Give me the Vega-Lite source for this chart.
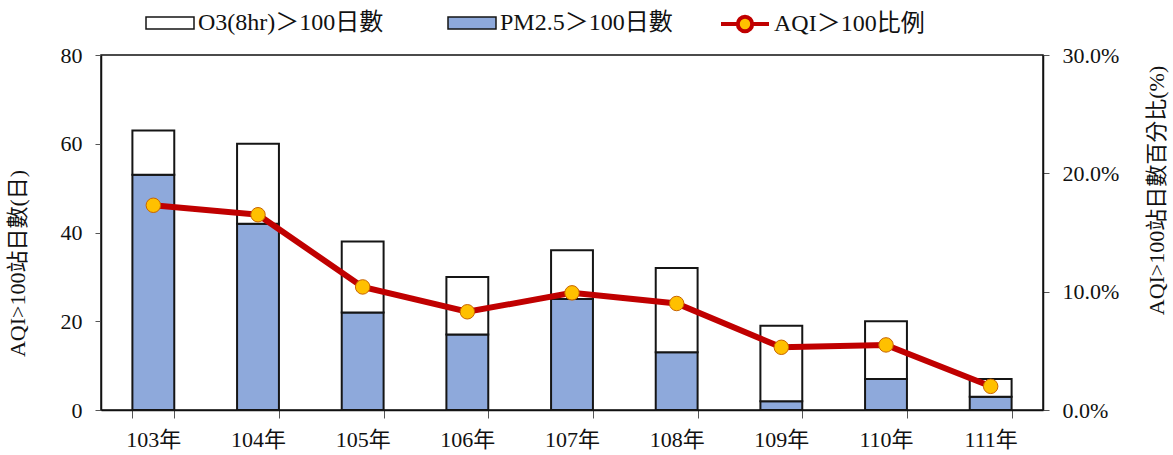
{
  "$schema": "https://vega.github.io/schema/vega-lite/v6.json",
  "autosize": {"type": "none"},
  "padding": {"left": 101, "top": 55, "right": 130, "bottom": 45},
  "width": 942,
  "height": 355,
  "background": "white",
  "config": {
    "font": "Liberation Serif, Noto Sans CJK TC",
    "view": {"stroke": "#111", "strokeWidth": 1.5},
    "axis": {
      "grid": false,
      "domainColor": "#111",
      "domainWidth": 1.5,
      "tickColor": "#555",
      "labelFont": "Liberation Serif, Noto Sans CJK TC",
      "titleFont": "Liberation Serif, Noto Sans CJK TC",
      "labelColor": "#111",
      "titleColor": "#111",
      "labelFontSize": 22,
      "titleFontSize": 22,
      "titleFontWeight": "normal"
    },
    "legend": {
      "labelFont": "Liberation Serif, Noto Sans CJK TC",
      "labelFontSize": 24,
      "labelColor": "#111",
      "labelLimit": 400
    }
  },
  "datasets": {
    "bars": [
      {"year": "103年", "series": "PM2.5＞100日數", "days": 53},
      {"year": "103年", "series": "O3(8hr)＞100日數", "days": 10},
      {"year": "104年", "series": "PM2.5＞100日數", "days": 42},
      {"year": "104年", "series": "O3(8hr)＞100日數", "days": 18},
      {"year": "105年", "series": "PM2.5＞100日數", "days": 22},
      {"year": "105年", "series": "O3(8hr)＞100日數", "days": 16},
      {"year": "106年", "series": "PM2.5＞100日數", "days": 17},
      {"year": "106年", "series": "O3(8hr)＞100日數", "days": 13},
      {"year": "107年", "series": "PM2.5＞100日數", "days": 25},
      {"year": "107年", "series": "O3(8hr)＞100日數", "days": 11},
      {"year": "108年", "series": "PM2.5＞100日數", "days": 13},
      {"year": "108年", "series": "O3(8hr)＞100日數", "days": 19},
      {"year": "109年", "series": "PM2.5＞100日數", "days": 2},
      {"year": "109年", "series": "O3(8hr)＞100日數", "days": 17},
      {"year": "110年", "series": "PM2.5＞100日數", "days": 7},
      {"year": "110年", "series": "O3(8hr)＞100日數", "days": 13},
      {"year": "111年", "series": "PM2.5＞100日數", "days": 3},
      {"year": "111年", "series": "O3(8hr)＞100日數", "days": 4}
    ],
    "aqi": [
      {"year": "103年", "pct": 0.173},
      {"year": "104年", "pct": 0.165},
      {"year": "105年", "pct": 0.104},
      {"year": "106年", "pct": 0.083},
      {"year": "107年", "pct": 0.099},
      {"year": "108年", "pct": 0.090},
      {"year": "109年", "pct": 0.053},
      {"year": "110年", "pct": 0.055},
      {"year": "111年", "pct": 0.020}
    ]
  },
  "encoding": {
    "x": {
      "field": "year",
      "type": "nominal",
      "sort": null,
      "scale": {"paddingInner": 0.6, "paddingOuter": 0.3},
      "axis": {
        "title": null,
        "labelAngle": 0,
        "tickBand": "extent",
        "tickSize": 8,
        "labelPadding": 11,
        "domainColor": "#111"
      }
    }
  },
  "layer": [
    {
      "data": {"name": "bars"},
      "mark": {"type": "bar", "stroke": "#151515", "strokeWidth": 2},
      "encoding": {
        "y": {
          "field": "days",
          "type": "quantitative",
          "aggregate": "sum",
          "stack": "zero",
          "scale": {"domain": [0, 80], "nice": false},
          "axis": {
            "title": "AQI>100站日數(日)",
            "values": [0, 20, 40, 60, 80],
            "tickSize": 6,
            "labelPadding": 13,
            "titleAngle": 270,
            "titleBaseline": "middle",
            "titleX": -84,
            "titleY": 208
          }
        },
        "color": {
          "field": "series",
          "type": "nominal",
          "scale": {
            "domain": ["O3(8hr)＞100日數", "PM2.5＞100日數"],
            "range": ["#ffffff", "#8EA9DB"]
          },
          "legend": {
            "title": null,
            "orient": "none",
            "direction": "horizontal",
            "legendX": 44,
            "legendY": -45,
            "symbolType": "M-2,-0.5H2V0.5H-2Z",
            "symbolSize": 576,
            "symbolOffset": 12,
            "symbolStrokeColor": "#151515",
            "symbolStrokeWidth": 1.5,
            "labelOffset": 15,
            "columnPadding": 61
          }
        },
        "order": {"field": "series", "sort": "descending"}
      }
    },
    {
      "data": {"name": "aqi"},
      "mark": {"type": "line", "strokeWidth": 6},
      "encoding": {
        "y": {
          "field": "pct",
          "type": "quantitative",
          "scale": {"domain": [0, 0.3], "nice": false},
          "axis": {
            "orient": "right",
            "title": "AQI>100站日數百分比(%)",
            "values": [0, 0.1, 0.2, 0.3],
            "format": ".1%",
            "tickSize": 6,
            "labelPadding": 13,
            "titleAngle": 270,
            "titleBaseline": "middle",
            "titleX": 113,
            "titleY": 135
          }
        },
        "stroke": {
          "datum": "AQI＞100比例",
          "scale": {"range": ["#C00000"]},
          "legend": {
            "title": null,
            "orient": "none",
            "direction": "horizontal",
            "legendX": 618,
            "legendY": -45,
            "symbolType": "M-2,0H-0.6M0.6,0H2M0.6,0A0.6,0.6 0 1 1 -0.6,0A0.6,0.6 0 1 1 0.6,0Z",
            "symbolSize": 576,
            "symbolOffset": 12,
            "symbolFillColor": "#FFC000",
            "symbolStrokeWidth": 4,
            "labelOffset": 15
          }
        }
      }
    },
    {
      "data": {"name": "aqi"},
      "mark": {"type": "circle", "size": 210, "fill": "#FFC000", "stroke": "#C86400", "strokeWidth": 1, "opacity": 1},
      "encoding": {
        "y": {"field": "pct", "type": "quantitative", "scale": {"domain": [0, 0.3], "nice": false}, "axis": null}
      }
    }
  ],
  "resolve": {"scale": {"y": "independent"}}
}
